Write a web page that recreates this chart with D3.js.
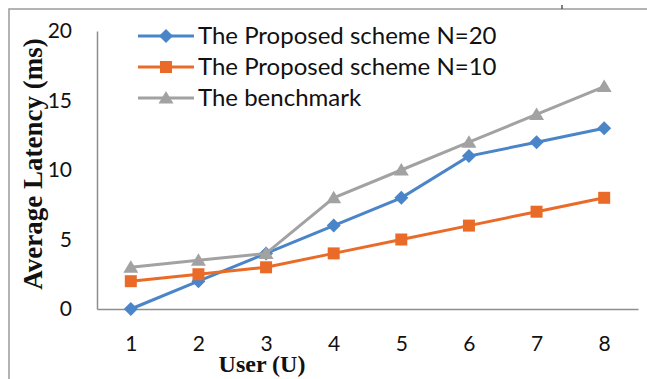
<!DOCTYPE html>
<html lang="en">
<head>
<meta charset="UTF-8">
<title>Average Latency vs User</title>
<script src="https://d3js.org/d3.v7.min.js"></script>
<style>
    body, html { margin: 0; padding: 0; background: #fff; overflow: hidden; }
    svg { display: block; }
    .tick text { font-family: Lato, 'Noto Sans', sans-serif; font-size: 21px; fill: #111; }
    .legend text { font-family: Lato, 'Noto Sans', sans-serif; font-size: 24px; fill: #111; }
    .title { font-family: 'Liberation Serif', 'DejaVu Serif', serif; font-weight: bold; fill: #111; }
</style>
</head>
<body>
<svg width="647" height="379"></svg>
<script>
// chart data
const users = ["1", "2", "3", "4", "5", "6", "7", "8"];
const proposedN20 = [0, 2, 4, 6, 8, 11, 12, 13];
const proposedN10 = [2, 2.5, 3, 4, 5, 6, 7, 8];
const benchmark = [3, 3.5, 4, 8, 10, 12, 14, 16];
const yTicks = [0, 5, 10, 15, 20];

const series = [
    {name: "The Proposed scheme N=20", values: proposedN20, color: "#4a85c9", marker: "diamond"},
    {name: "The Proposed scheme N=10", values: proposedN10, color: "#e96b27", marker: "square"},
    {name: "The benchmark", values: benchmark, color: "#a2a2a2", marker: "triangle"}
];

const svg = d3.select("svg");
const plotLeft = 97, plotRight = 638, plotTop = 31, plotBottom = 309;

// outer frame (only top and left edges visible)
svg.append("path")
    .attr("d", "M9,379V9H647")
    .attr("fill", "none")
    .attr("stroke", "#9a9a9a")
    .attr("stroke-width", 1.5);
svg.append("line")
    .attr("x1", 562).attr("x2", 562).attr("y1", 5).attr("y2", 9)
    .attr("stroke", "#555").attr("stroke-width", 1.5);

const x = d3.scalePoint().domain(users).range([plotLeft, plotRight]).padding(0.5);
const y = d3.scaleLinear().domain([0, 20]).range([plotBottom, plotTop]);

const yAxis = svg.append("g")
    .attr("transform", `translate(${plotLeft},0)`)
    .call(d3.axisLeft(y).tickValues(yTicks).tickSize(0).tickPadding(25));
const xAxis = svg.append("g")
    .attr("transform", `translate(0,${plotBottom})`)
    .call(d3.axisBottom(x).tickSize(0).tickPadding(27));
[xAxis, yAxis].forEach(g => g.select(".domain").attr("stroke", "#8e8e8e").attr("stroke-width", 1.5));

function markerPath(type) {
    if (type === "diamond") return "M0,-7L7,0L0,7L-7,0Z";
    if (type === "square") return "M-6,-6H6V6H-6Z";
    return "M0,-7L7.5,5.5H-7.5Z";
}

const line = d3.line().x((d, i) => x(users[i])).y(d => y(d));

series.forEach(s => {
    svg.append("path")
        .attr("d", line(s.values))
        .attr("fill", "none")
        .attr("stroke", s.color)
        .attr("stroke-width", 3);
    svg.append("g").selectAll("path")
        .data(s.values)
        .join("path")
        .attr("transform", (d, i) => `translate(${x(users[i])},${y(d)})`)
        .attr("d", markerPath(s.marker))
        .attr("fill", s.color);
});

// legend
const legend = svg.append("g").attr("class", "legend");
series.forEach((s, i) => {
    const ly = 36 + i * 31;
    legend.append("line")
        .attr("x1", 138).attr("x2", 194).attr("y1", ly).attr("y2", ly)
        .attr("stroke", s.color).attr("stroke-width", 3);
    legend.append("path")
        .attr("transform", `translate(166,${ly})`)
        .attr("d", markerPath(s.marker))
        .attr("fill", s.color);
    legend.append("text")
        .attr("x", 198).attr("y", ly)
        .attr("dy", "0.35em")
        .text(s.name);
});

// axis titles
svg.append("text")
    .attr("class", "title")
    .attr("transform", "translate(42,164) rotate(-90)")
    .attr("text-anchor", "middle")
    .attr("font-size", 27)
    .text("Average Latency (ms)");
svg.append("text")
    .attr("class", "title")
    .attr("x", 262).attr("y", 372)
    .attr("text-anchor", "middle")
    .attr("font-size", 24)
    .text("User (U)");
</script>
</body>
</html>
